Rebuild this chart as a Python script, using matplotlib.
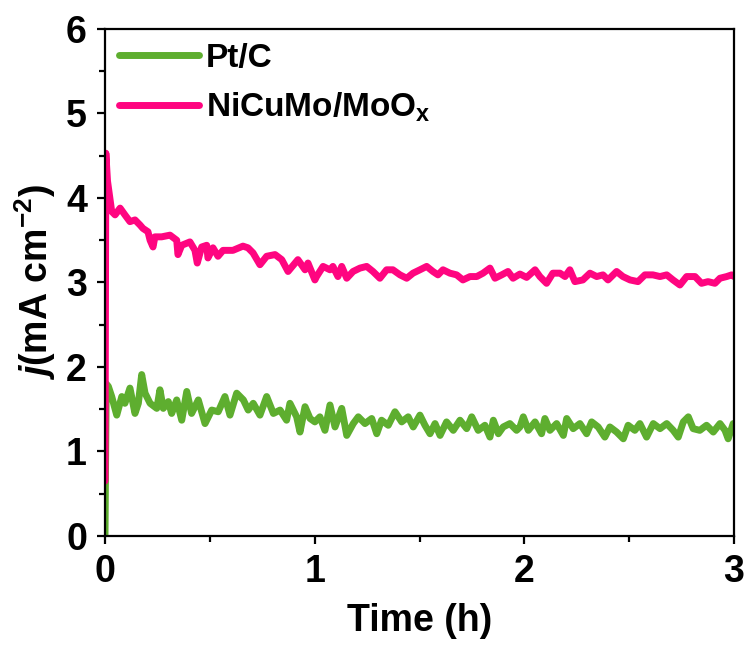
import numpy as np
import matplotlib
matplotlib.use("Agg")
import matplotlib.pyplot as plt
from matplotlib.ticker import MultipleLocator

plt.rcParams['font.family'] = ['Liberation Sans', 'DejaVu Sans']
plt.rcParams['font.weight'] = 'bold'
plt.rcParams['mathtext.fontset'] = 'custom'
plt.rcParams['mathtext.rm'] = 'Liberation Sans:bold'
plt.rcParams['mathtext.it'] = 'Liberation Sans:bold:italic'
plt.rcParams['mathtext.bf'] = 'Liberation Sans:bold'

# data (time in h, current density in mA cm-2)
pt_time = [0.0, 0.002, 0.006, 0.016, 0.032, 0.056, 0.080, 0.095, 0.119, 0.143, 0.159,
           0.175, 0.191, 0.215, 0.247, 0.262, 0.278, 0.302, 0.318, 0.342, 0.366,
           0.390, 0.413, 0.445, 0.477, 0.509, 0.540, 0.572, 0.596, 0.628, 0.660,
           0.683, 0.707, 0.739, 0.771, 0.803, 0.835, 0.866, 0.882, 0.914, 0.930,
           0.954, 0.978, 1.001, 1.025, 1.049, 1.073, 1.097, 1.129, 1.153, 1.184,
           1.208, 1.240, 1.272, 1.296, 1.319, 1.351, 1.383, 1.415, 1.446, 1.470,
           1.502, 1.526, 1.550, 1.574, 1.598, 1.629, 1.661, 1.693, 1.725, 1.749,
           1.780, 1.812, 1.836, 1.852, 1.876, 1.899, 1.931, 1.963, 1.979, 1.995,
           2.019, 2.051, 2.082, 2.098, 2.122, 2.154, 2.186, 2.202, 2.233, 2.265,
           2.297, 2.321, 2.352, 2.384, 2.408, 2.440, 2.472, 2.495, 2.527, 2.551,
           2.583, 2.615, 2.647, 2.679, 2.710, 2.734, 2.758, 2.782, 2.805, 2.837,
           2.869, 2.901, 2.933, 2.957, 2.972, 2.996, 3.0]
pt_j = [0.0, 0.66, 1.80, 1.77, 1.65, 1.43, 1.65, 1.57, 1.75, 1.45, 1.57,
        1.91, 1.69, 1.57, 1.51, 1.73, 1.51, 1.59, 1.45, 1.61, 1.37,
        1.71, 1.45, 1.61, 1.33, 1.49, 1.47, 1.65, 1.43, 1.69, 1.61,
        1.49, 1.57, 1.43, 1.65, 1.45, 1.49, 1.37, 1.57, 1.41, 1.23,
        1.53, 1.39, 1.35, 1.41, 1.25, 1.55, 1.29, 1.51, 1.19, 1.33,
        1.41, 1.33, 1.39, 1.21, 1.37, 1.31, 1.47, 1.35, 1.41, 1.29,
        1.43, 1.31, 1.21, 1.33, 1.19, 1.35, 1.25, 1.37, 1.27, 1.41,
        1.25, 1.31, 1.17, 1.37, 1.21, 1.29, 1.33, 1.25, 1.29, 1.41,
        1.25, 1.35, 1.21, 1.39, 1.25, 1.33, 1.19, 1.39, 1.27, 1.33,
        1.21, 1.35, 1.29, 1.17, 1.29, 1.23, 1.15, 1.31, 1.25, 1.33,
        1.17, 1.33, 1.27, 1.33, 1.25, 1.17, 1.35, 1.41, 1.27, 1.25,
        1.31, 1.23, 1.33, 1.25, 1.15, 1.33, 1.30]

ni_time = [0.0, 0.004, 0.012, 0.032, 0.048, 0.072, 0.095, 0.119, 0.143, 0.167, 0.181,
           0.205, 0.215, 0.229, 0.238, 0.270, 0.310, 0.342, 0.348, 0.366, 0.405,
           0.429, 0.440, 0.461, 0.485, 0.491, 0.515, 0.539, 0.563, 0.610, 0.658,
           0.682, 0.706, 0.739, 0.771, 0.811, 0.843, 0.873, 0.920, 0.954, 0.968,
           1.001, 1.009, 1.040, 1.073, 1.087, 1.111, 1.129, 1.153, 1.183, 1.216,
           1.248, 1.278, 1.311, 1.343, 1.373, 1.407, 1.439, 1.469, 1.502, 1.534,
           1.564, 1.588, 1.612, 1.645, 1.677, 1.707, 1.741, 1.773, 1.803, 1.836,
           1.860, 1.892, 1.922, 1.946, 1.979, 2.011, 2.051, 2.074, 2.106, 2.136,
           2.170, 2.194, 2.217, 2.241, 2.279, 2.313, 2.345, 2.375, 2.399, 2.440,
           2.470, 2.504, 2.542, 2.575, 2.613, 2.647, 2.679, 2.709, 2.742, 2.774,
           2.814, 2.845, 2.876, 2.909, 2.933, 2.965, 2.989, 3.0]
ni_j = [0.65, 4.53, 4.20, 3.84, 3.80, 3.88, 3.80, 3.72, 3.74, 3.68, 3.64,
        3.60, 3.50, 3.42, 3.54, 3.54, 3.56, 3.50, 3.33, 3.44, 3.48,
        3.38, 3.23, 3.42, 3.44, 3.29, 3.41, 3.31, 3.38, 3.38, 3.43,
        3.41, 3.35, 3.21, 3.31, 3.33, 3.27, 3.13, 3.27, 3.15, 3.23,
        3.03, 3.07, 3.19, 3.15, 3.19, 3.07, 3.19, 3.05, 3.13, 3.17,
        3.19, 3.13, 3.05, 3.15, 3.15, 3.09, 3.05, 3.11, 3.15, 3.19,
        3.13, 3.09, 3.15, 3.11, 3.09, 3.03, 3.07, 3.07, 3.11, 3.17,
        3.05, 3.09, 3.13, 3.05, 3.10, 3.06, 3.15, 3.07, 2.99, 3.11,
        3.11, 3.07, 3.15, 3.01, 3.03, 3.11, 3.07, 3.09, 3.03, 3.13,
        3.07, 3.03, 3.01, 3.09, 3.09, 3.07, 3.09, 3.03, 2.97, 3.07,
        3.07, 2.99, 3.01, 2.99, 3.05, 3.07, 3.09, 3.07]

labels = ['Pt/C', r'NiCuMo/MoO$_\mathrm{x}$']
colors = ['#5EAE2F', '#FF0580']

fig = plt.figure(figsize=(7.5, 6.51), dpi=100)
ax = fig.add_axes([0.14, 0.1767, 0.8387, 0.7788])

ax.plot(pt_time, pt_j, color=colors[0], lw=5, label=labels[0],
        solid_capstyle='round', solid_joinstyle='round')
ax.plot(ni_time, ni_j, color=colors[1], lw=5, label=labels[1],
        solid_capstyle='round', solid_joinstyle='round')

ax.set_xlim(0, 3)
ax.set_ylim(0, 6)
ax.xaxis.set_major_locator(MultipleLocator(1))
ax.xaxis.set_minor_locator(MultipleLocator(0.5))
ax.yaxis.set_major_locator(MultipleLocator(1))
ax.yaxis.set_minor_locator(MultipleLocator(0.5))

for s in ax.spines.values():
    s.set_linewidth(1.6)
ax.tick_params(which='major', direction='out', length=6, width=1.6,
               labelsize=27, pad=7)
ax.tick_params(which='minor', direction='out', length=4, width=1.6)
for lab in ax.get_xticklabels() + ax.get_yticklabels():
    lab.set_fontweight('bold')

ax.set_xlabel('Time (h)', fontsize=27, fontweight='bold', labelpad=9)
ax.set_ylabel(r'$\mathit{j}$(mA cm$^{-2}$)', fontsize=27, fontweight='bold', labelpad=6)

leg = ax.legend(loc='upper left', frameon=False, handlelength=2.4,
                handletextpad=0.2, labelspacing=0.5, borderpad=0.1,
                borderaxespad=0.32, prop={'weight': 'bold', 'size': 24})
for line in leg.get_lines():
    line.set_linewidth(5)

fig.savefig('out.png', dpi=100)
